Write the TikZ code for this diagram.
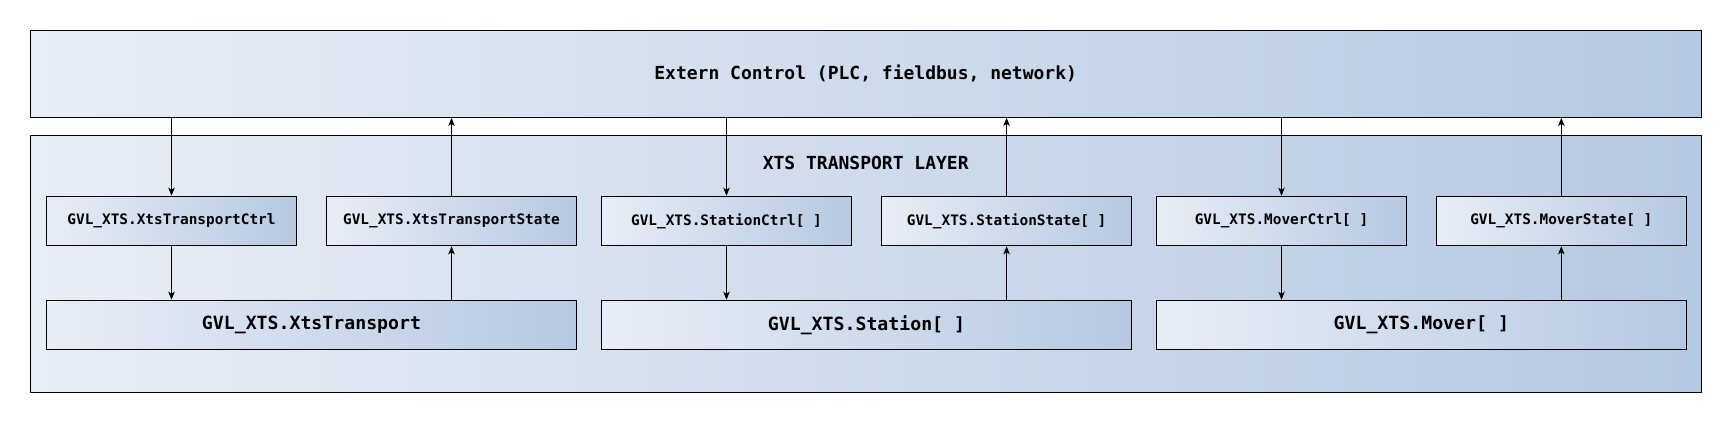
\documentclass[tikz,border=0pt]{standalone}
\usepackage{fontspec}
\setmonofont{DejaVu Sans Mono}
\usetikzlibrary{arrows.meta}
\definecolor{gleft}{HTML}{E8EEF7}
\definecolor{gright}{HTML}{B6C9E2}
\tikzset{
  gbox/.style={draw=black, line width=1.2pt, left color=gleft, right color=gright, inner sep=0pt, align=center},
  smallbox/.style={gbox, minimum width=250pt, minimum height=49.4pt, font=\ttfamily\bfseries\fontsize{14.4}{16}\selectfont},
  bigbox/.style={gbox, minimum width=530.4pt, minimum height=49pt, font=\ttfamily\bfseries\fontsize{18.2}{20}\selectfont},
  titletext/.style={font=\ttfamily\bfseries\fontsize{18}{20}\selectfont},
  arr/.style={line width=1pt, -{Stealth[length=8pt,width=6.5pt,inset=2pt]}}
}
\begin{document}
\begin{tikzpicture}[x=1pt,y=-1pt]
\useasboundingbox (0,0) rectangle (1732,423);
\node[gbox, minimum width=1671pt, minimum height=87pt, titletext] (top) at (865.7,73.8) {Extern Control (PLC, fieldbus, network)};
\node[gbox, minimum width=1671pt, minimum height=257pt] (layer) at (865.7,263.8) {};
\node[titletext] (title) at (865.7,163.3) {XTS TRANSPORT LAYER};
% group 1
\node[smallbox] (c1) at (171.5,221) {GVL\_XTS.XtsTransportCtrl};
\node[smallbox] (s1) at (451.5,221) {GVL\_XTS.XtsTransportState};
\node[bigbox] (b1) at (311.5,324.8) {GVL\_XTS.XtsTransport};
% group 2
\node[smallbox] (c2) at (726.5,221) {GVL\_XTS.StationCtrl[ ]};
\node[smallbox] (s2) at (1006.6,221) {GVL\_XTS.StationState[ ]};
\node[bigbox] (b2) at (866.5,324.8) {GVL\_XTS.Station[ ]};
% group 3
\node[smallbox] (c3) at (1281.5,221) {GVL\_XTS.MoverCtrl[ ]};
\node[smallbox] (s3) at (1561.3,221) {GVL\_XTS.MoverState[ ]};
\node[bigbox] (b3) at (1421.3,324.8) {GVL\_XTS.Mover[ ]};
% connectors
\foreach \i in {1,2,3}{
  \draw[arr] (c\i.north |- top.south) -- (c\i.north);
  \draw[arr] (c\i.south) -- (c\i.south |- b\i.north);
  \draw[arr] (s\i.south |- b\i.north) -- (s\i.south);
  \draw[arr] (s\i.north) -- (s\i.north |- top.south);
}
\end{tikzpicture}
\end{document}
